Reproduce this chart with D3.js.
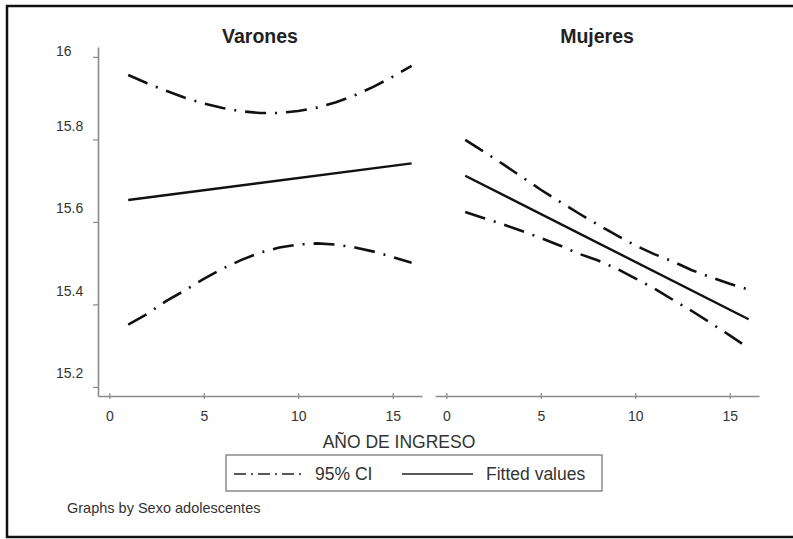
<!DOCTYPE html>
<html>
<head>
<meta charset="utf-8">
<script src="https://cdn.jsdelivr.net/npm/d3@7"></script>
<style>
  body { margin: 0; background: #fff; }
  text { font-family: "Liberation Sans", Arial, sans-serif; }
</style>
</head>
<body>
<div id="plotDiv"></div>
<script>
// --- Data ---
const panels = ["Varones", "Mujeres"];
const years = [1, 2, 3, 4, 5, 6, 7, 8, 9, 10, 11, 12, 13, 14, 15, 16];

const varonesUpper = [15.956, 15.936, 15.918, 15.901, 15.887, 15.876, 15.868, 15.864, 15.864, 15.869, 15.877, 15.890, 15.907, 15.928, 15.952, 15.978];
const varonesLower = [15.351, 15.377, 15.408, 15.434, 15.462, 15.487, 15.508, 15.526, 15.538, 15.545, 15.548, 15.545, 15.538, 15.528, 15.515, 15.501];
const varonesFitX = [1, 16];
const varonesFit = [15.653, 15.742];

const mujeresUpper = [15.799, 15.770, 15.740, 15.709, 15.678, 15.649, 15.621, 15.594, 15.568, 15.543, 15.522, 15.504, 15.483, 15.466, 15.450, 15.436];
const mujeresLower = [15.624, 15.609, 15.594, 15.578, 15.561, 15.543, 15.523, 15.507, 15.487, 15.463, 15.439, 15.411, 15.384, 15.355, 15.325, 15.294];
const mujeresFitX = [1, 16];
const mujeresFit = [15.712, 15.364];

const xTicks = [0, 5, 10, 15];
const yTicks = [15.2, 15.4, 15.6, 15.8, 16];
const legendLabels = ["95% CI", "Fitted values"];

// --- SVG Setup ---
const width = 793, height = 539;
const svg = d3.select("#plotDiv")
  .append("svg")
  .attr("width", width)
  .attr("height", height);

// outer frame (right side falls outside the picture)
svg.append("rect")
  .attr("x", 7).attr("y", 6)
  .attr("width", 900).attr("height", 531)
  .attr("fill", "none")
  .attr("stroke", "#111")
  .attr("stroke-width", 2.5);

// --- Scales ---
const y = d3.scaleLinear().domain([15.178, 16.024]).range([396, 47]);
const xLeft = d3.scaleLinear().domain([-0.6, 16.55]).range([98, 422]);
const xRight = d3.scaleLinear().domain([-0.6, 16.55]).range([435, 759]);

const panelData = [
  {name: panels[0], x: xLeft, upper: varonesUpper, lower: varonesLower, fitX: varonesFitX, fit: varonesFit},
  {name: panels[1], x: xRight, upper: mujeresUpper, lower: mujeresLower, fitX: mujeresFitX, fit: mujeresFit}
];

const axisColor = "#8a8a8a";
const ciDash = "21,9,2,9";

panelData.forEach((p, i) => {
  const g = svg.append("g");

  // --- x axis ---
  const xAxis = g.append("g")
    .attr("transform", "translate(0,396)")
    .call(d3.axisBottom(p.x).tickValues(xTicks).tickSizeOuter(0));
  xAxis.select(".domain").attr("stroke", axisColor).attr("stroke-width", 1.6);
  xAxis.selectAll(".tick line").attr("y1", -3).attr("y2", 3)
    .attr("stroke", axisColor).attr("stroke-width", 1.2);
  xAxis.selectAll(".tick text")
    .attr("y", 25).attr("dy", 0)
    .attr("font-size", 14).attr("fill", "#333")
    .attr("font-family", "Liberation Sans, Arial, sans-serif");

  // --- y axis (left panel only) ---
  if (i === 0) {
    const yAxis = g.append("g")
      .attr("transform", "translate(98,0)")
      .call(d3.axisLeft(y).tickValues(yTicks).tickSize(5).tickSizeOuter(0)
        .tickFormat(d3.format("~g")));
    yAxis.select(".domain").attr("stroke", axisColor).attr("stroke-width", 1.6);
    yAxis.selectAll(".tick line").attr("stroke", axisColor).attr("stroke-width", 1.2);
    yAxis.selectAll(".tick text")
      .attr("x", -42).attr("dy", d => d === 16 ? -1 : -9)
      .attr("text-anchor", "start")
      .attr("font-size", 14).attr("fill", "#333")
      .attr("font-family", "Liberation Sans, Arial, sans-serif");
  }

  // --- panel title ---
  g.append("text")
    .attr("x", (p.x.range()[0] + p.x.range()[1]) / 2)
    .attr("y", 43)
    .attr("text-anchor", "middle")
    .attr("font-size", 19.5)
    .attr("font-weight", "bold")
    .attr("fill", "#222")
    .text(p.name);

  // --- lines ---
  const line = d3.line().x(d => p.x(d[0])).y(d => y(d[1]));

  [p.upper, p.lower].forEach(vals => {
    g.append("path")
      .datum(years.map((yr, k) => [yr, vals[k]]))
      .attr("d", line)
      .attr("fill", "none")
      .attr("stroke", "#111")
      .attr("stroke-width", 2.6)
      .attr("stroke-dasharray", ciDash);
  });

  g.append("path")
    .datum(p.fitX.map((yr, k) => [yr, p.fit[k]]))
    .attr("d", line)
    .attr("fill", "none")
    .attr("stroke", "#111")
    .attr("stroke-width", 2.4);
});

// --- x axis title ---
svg.append("text")
  .attr("x", 399).attr("y", 448)
  .attr("text-anchor", "middle")
  .attr("font-size", 17.5)
  .attr("fill", "#333")
  .text("AÑO DE INGRESO");

// --- Legend ---
const legend = svg.append("g");
legend.append("rect")
  .attr("x", 226).attr("y", 455)
  .attr("width", 376).attr("height", 36)
  .attr("fill", "#fff")
  .attr("stroke", axisColor)
  .attr("stroke-width", 1.5);

legend.append("line")
  .attr("x1", 234).attr("x2", 303).attr("y1", 474).attr("y2", 474)
  .attr("stroke", "#222").attr("stroke-width", 1.5)
  .attr("stroke-dasharray", "12,5,2,5");
legend.append("text")
  .attr("x", 315).attr("y", 480)
  .attr("font-size", 17.5).attr("fill", "#333")
  .text(legendLabels[0]);

legend.append("line")
  .attr("x1", 402).attr("x2", 473).attr("y1", 474).attr("y2", 474)
  .attr("stroke", "#222").attr("stroke-width", 1.5);
legend.append("text")
  .attr("x", 486).attr("y", 480)
  .attr("font-size", 17.5).attr("fill", "#333")
  .text(legendLabels[1]);

// --- Note ---
svg.append("text")
  .attr("x", 67).attr("y", 513)
  .attr("font-size", 14.5)
  .attr("fill", "#333")
  .text("Graphs by Sexo adolescentes");
</script>
</body>
</html>
